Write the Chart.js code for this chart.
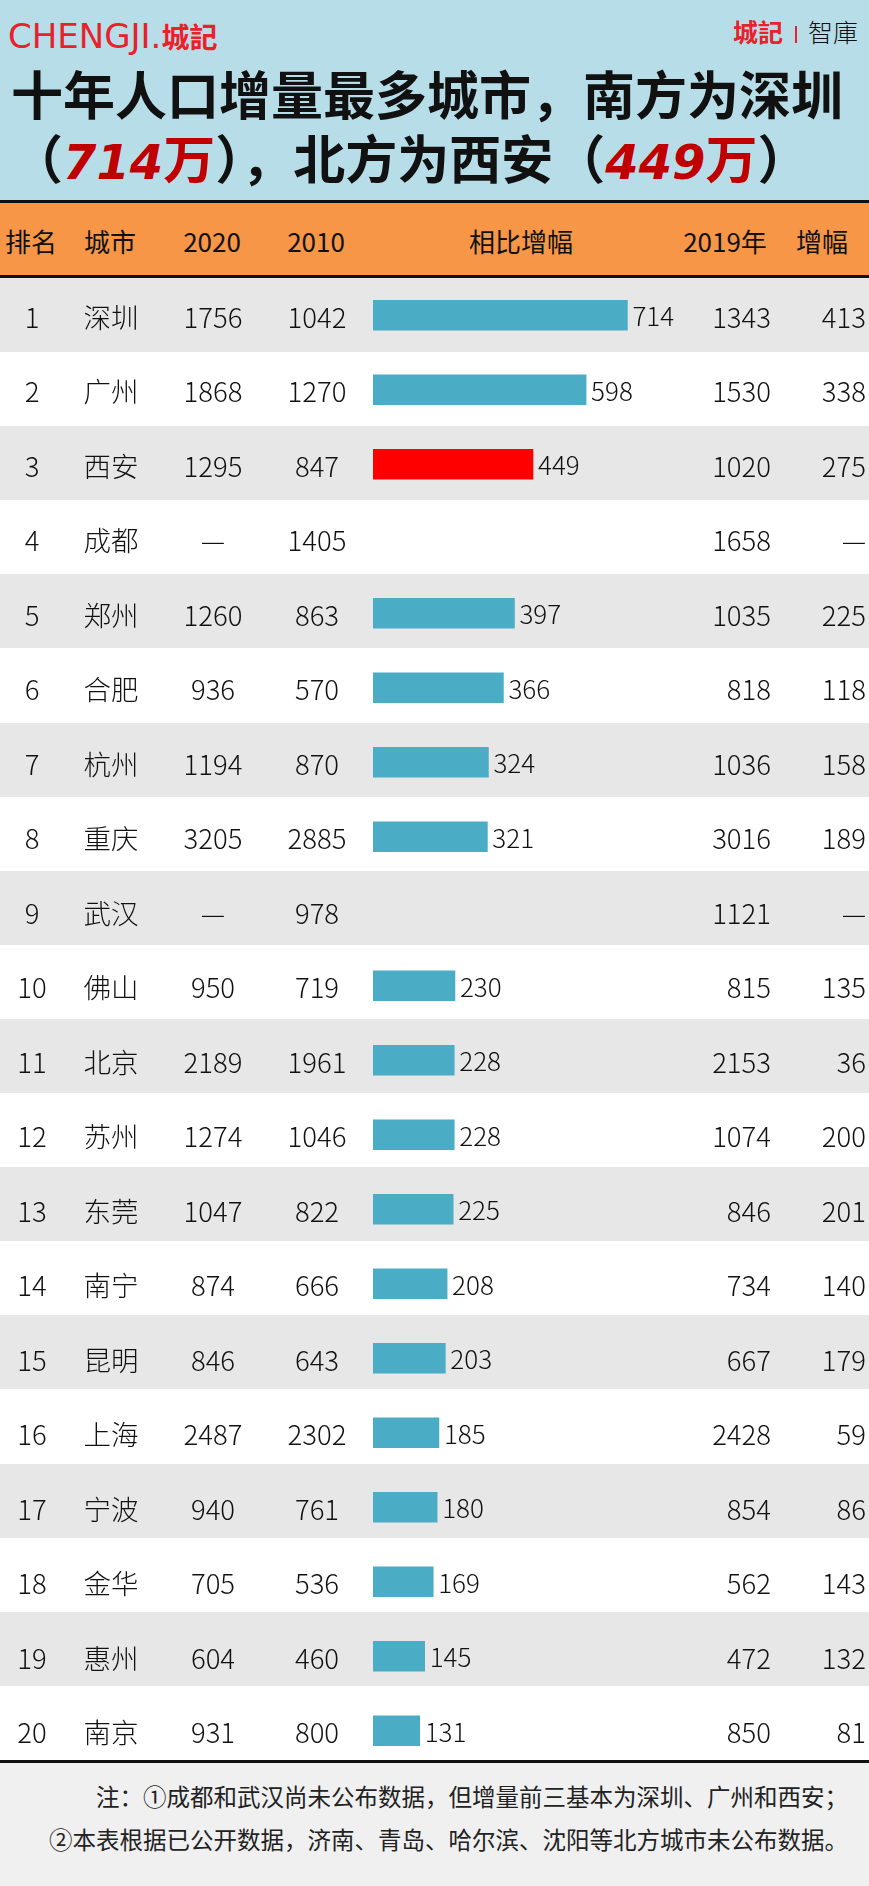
<!DOCTYPE html>
<html lang="zh-CN">
<head>
<meta charset="UTF-8">
<title>十年人口增量最多城市</title>
<script src="https://cdn.jsdelivr.net/npm/chart.js"></script>
<style>
  body { margin: 0; width: 869px; height: 1886px; position: relative; overflow: hidden; background: #fff;
         font-family: "Noto Sans CJK SC", sans-serif; color: #111; }
  .abs { position: absolute; }
  .top { left: 0; top: 0; width: 869px; height: 200px; background: #b7dee8; }
  .logo { left: 8px; top: 19px; line-height: 1; color: #e8212b; white-space: nowrap; }
  .logo .en { font-family: "DejaVu Sans", sans-serif; font-size: 34px; }
  .logo .cn { font-size: 28px; font-weight: 700; }
  .logo2 { left: 733px; top: 19px; line-height: 1; white-space: nowrap; }
  .logo2 .cn { color: #e8212b; font-size: 25px; font-weight: 700; }
  .logo2 .sep { display: inline-block; width: 2px; height: 17px; background: #e8212b; margin: 0 11px 0 12px; vertical-align: -1px; }
  .logo2 .zk { font-size: 25px; font-weight: 300; color: #111; }
  .title { left: 11px; top: 61px; font-size: 52px; line-height: 64px; font-weight: 700; color: #111; white-space: nowrap; }
  .title .num { font-family: "DejaVu Sans", sans-serif; font-style: italic; font-weight: 700; font-size: 48px; color: #c00000; }
  .title .red { color: #c00000; }
  .rule { left: 0; width: 869px; height: 3px; background: #111; }
  .head { left: 0; top: 203px; width: 869px; height: 72px; background: #f79646; }
  .head span { position: absolute; top: 18px; font-size: 26px; line-height: 40px; transform: translateX(-50%); white-space: nowrap; }
  .bands { left: 0; top: 278px; width: 869px; height: 1482px;
           background: repeating-linear-gradient(#e7e7e7 0, #e7e7e7 74.1px, #fff 74.1px, #fff 148.2px); }
  #tableChart { left: 0; top: 278px; }
  .foot { left: 0; top: 1763px; width: 869px; height: 123px; background: #f0f0f0; }
  .foot p { margin: 0; position: absolute; right: 21px; font-size: 23.5px; line-height: 43px; white-space: nowrap; color: #222; }
</style>
</head>
<body>
  <div class="abs top"></div>
  <div class="abs logo"><span class="en">CHENGJI.</span><span class="cn">城記</span></div>
  <div class="abs logo2"><span class="cn">城記</span><span class="sep"></span><span class="zk">智庫</span></div>
  <div class="abs title">十年人口增量最多城市，南方为深圳<br>（<span class="num">714</span><span class="red">万</span>），北方为西安（<span class="num">449</span><span class="red">万</span>）</div>
  <div class="abs rule" style="top:200px"></div>
  <div class="abs head">
    <span style="left:31px">排名</span>
    <span style="left:110px">城市</span>
    <span style="left:212px">2020</span>
    <span style="left:316px">2010</span>
    <span style="left:521px">相比增幅</span>
    <span style="left:725px">2019年</span>
    <span style="left:822px">增幅</span>
  </div>
  <div class="abs rule" style="top:275px"></div>
  <div class="abs bands"></div>
  <div class="abs rule" style="top:1760px"></div>
  <div class="abs foot">
    <p style="top:12px">注：①成都和武汉尚未公布数据，但增量前三基本为深圳、广州和西安；</p>
    <p style="top:55px">②本表根据已公开数据，济南、青岛、哈尔滨、沈阳等北方城市未公布数据。</p>
  </div>
  <canvas id="tableChart" class="abs" width="869" height="1490"></canvas>

  <script>
    // 数据（单位：万人）
    const ranks = [1, 2, 3, 4, 5, 6, 7, 8, 9, 10, 11, 12, 13, 14, 15, 16, 17, 18, 19, 20];
    const cities = ["深圳", "广州", "西安", "成都", "郑州", "合肥", "杭州", "重庆", "武汉", "佛山",
                    "北京", "苏州", "东莞", "南宁", "昆明", "上海", "宁波", "金华", "惠州", "南京"];
    const pop2020 = [1756, 1868, 1295, null, 1260, 936, 1194, 3205, null, 950,
                     2189, 1274, 1047, 874, 846, 2487, 940, 705, 604, 931];
    const pop2010 = [1042, 1270, 847, 1405, 863, 570, 870, 2885, 978, 719,
                     1961, 1046, 822, 666, 643, 2302, 761, 536, 460, 800];
    const increase = [714, 598, 449, null, 397, 366, 324, 321, null, 230,
                      228, 228, 225, 208, 203, 185, 180, 169, 145, 131];
    const pop2019 = [1343, 1530, 1020, 1658, 1035, 818, 1036, 3016, 1121, 815,
                     2153, 1074, 846, 734, 667, 2428, 854, 562, 472, 850];
    const growth2019 = [413, 338, 275, null, 225, 118, 158, 189, null, 135,
                        36, 200, 201, 140, 179, 59, 86, 143, 132, 81];
    const highlight = "西安";

    const fmt = (v) => (v == null ? "—" : String(v));
    const FONT = '"Noto Sans CJK SC", sans-serif';

    // draw the table cells and bar labels on the category rows
    const tableText = {
      id: "tableText",
      afterDatasetsDraw(chart) {
        const ctx = chart.ctx;
        const xs = chart.scales.x;
        const ys = chart.scales.y;
        ctx.save();
        ctx.fillStyle = "#111";
        ctx.textBaseline = "middle";
        cities.forEach((city, i) => {
          const y = ys.getPixelForValue(i) + 2;
          ctx.font = "300 27.5px " + FONT;
          ctx.textAlign = "center";
          ctx.fillText(String(ranks[i]), 32, y);
          ctx.fillText(city, 111, y);
          ctx.fillText(fmt(pop2020[i]), 213, y);
          ctx.fillText(fmt(pop2010[i]), 317, y);
          ctx.textAlign = "right";
          ctx.fillText(fmt(pop2019[i]), 771, y);
          ctx.fillText(fmt(growth2019[i]), 866, y);
          if (increase[i] != null) {
            ctx.font = "300 26px " + FONT;
            ctx.textAlign = "left";
            ctx.fillText(String(increase[i]), xs.getPixelForValue(increase[i]) + 5, y - 1);
          }
        });
        ctx.restore();
      },
    };

    new Chart(document.getElementById("tableChart").getContext("2d"), {
      type: "bar",
      data: {
        labels: cities,
        datasets: [
          {
            data: increase,
            backgroundColor: cities.map((c) => (c === highlight ? "#ff0000" : "#4bacc6")),
            borderWidth: 0,
            barThickness: 30,
          },
        ],
      },
      options: {
        indexAxis: "y",
        responsive: false,
        animation: false,
        layout: { padding: { left: 373, right: 139.7, top: 0, bottom: 0 } },
        scales: {
          x: { display: false, min: 0, max: 1000 },
          y: { display: false },
        },
        plugins: { legend: { display: false }, tooltip: { enabled: false } },
      },
      plugins: [tableText],
    });
  </script>
</body>
</html>
